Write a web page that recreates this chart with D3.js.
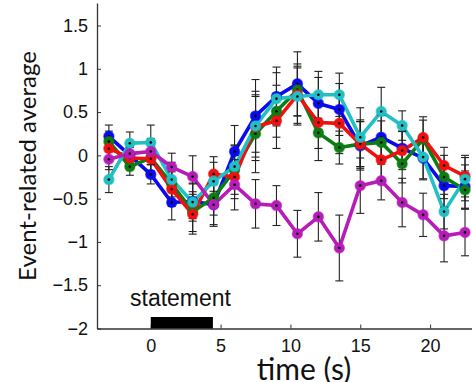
<!DOCTYPE html>
<html><head><meta charset="utf-8">
<script src="https://cdn.jsdelivr.net/npm/d3@7"></script>
<style>body{margin:0;background:#fff}svg{display:block}</style>
</head><body>
<svg id="c" width="472" height="382"></svg>
<script>
const times = [-3,-1.5,0,1.5,3,4.5,6,7.5,9,10.5,12,13.5,15,16.5,18,19.5,21,22.5];
const blueVals    = [0.22, 0.0, -0.22, -0.545, -0.53, -0.57, 0.045, 0.456, 0.68, 0.826, 0.60, 0.53, 0.11, 0.21, 0.083, -0.033, -0.35, -0.36];
const greenVals   = [0.16, -0.13, -0.03, -0.33, -0.65, -0.49, -0.17, 0.25, 0.51, 0.756, 0.26, 0.09, 0.13, 0.148, -0.098, 0.187, -0.25, -0.40];
const redVals     = [0.08, -0.03, -0.04, -0.39, -0.68, -0.215, -0.25, 0.33, 0.40, 0.70, 0.38, 0.37, 0.13, -0.052, 0.055, 0.206, -0.117, -0.24];
const cyanVals    = [-0.28, 0.14, 0.15, -0.28, -0.54, -0.30, -0.13, 0.34, 0.655, 0.68, 0.70, 0.70, 0.21, 0.506, 0.344, -0.02, -0.65, -0.275];
const magentaVals = [-0.045, 0.02, 0.045, -0.135, -0.245, -0.57, -0.34, -0.56, -0.58, -0.906, -0.71, -1.07, -0.35, -0.294, -0.545, -0.687, -0.93, -0.89];
const blueErr     = [0.13, 0.10, 0.11, 0.20, 0.20, 0.23, 0.30, 0.42, 0.34, 0.37, 0.30, 0.30, 0.28, 0.25, 0.20, 0.25, 0.25, 0.25];
const greenErr    = [0.12, 0.10, 0.15, 0.20, 0.23, 0.20, 0.28, 0.45, 0.30, 0.30, 0.32, 0.19, 0.26, 0.25, 0.22, 0.22, 0.25, 0.22];
const redErr      = [0.12, 0.12, 0.15, 0.20, 0.23, 0.20, 0.25, 0.35, 0.32, 0.33, 0.30, 0.35, 0.28, 0.22, 0.22, 0.24, 0.21, 0.24];
const cyanErr     = [0.15, 0.13, 0.20, 0.20, 0.22, 0.22, 0.25, 0.40, 0.30, 0.33, 0.27, 0.25, 0.34, 0.28, 0.17, 0.25, 0.20, 0.25];
const magentaErr  = [0.12, 0.10, 0.15, 0.16, 0.24, 0.25, 0.29, 0.28, 0.23, 0.27, 0.28, 0.38, 0.32, 0.22, 0.28, 0.25, 0.30, 0.27];
const seriesColors = ["#0a0af0", "#0b7d12", "#f01010", "#20c0c4", "#b81cb8"];
const xTicks = [0, 5, 10, 15, 20];
const yTicks = [-2, -1.5, -1, -0.5, 0, 0.5, 1, 1.5];
const stimulusLabel = "statement";
const stimulusSpan = [0, 4.45];
const xLabel = "time (s)";
const yLabel = "Event-related average";

const series = [
  {vals: blueVals, err: blueErr, color: seriesColors[0]},
  {vals: greenVals, err: greenErr, color: seriesColors[1]},
  {vals: redVals, err: redErr, color: seriesColors[2]},
  {vals: cyanVals, err: cyanErr, color: seriesColors[3]},
  {vals: magentaVals, err: magentaErr, color: seriesColors[4]}
];

const svg = d3.select("#c");
const x = d3.scaleLinear().domain([-3.85, 23]).range([97, 472]);
const y = d3.scaleLinear().domain([-2, 1.76]).range([328.5, 3]);
const axisColor = "#333";

// axes
const xAxis = svg.append("g").attr("transform", `translate(0,${y(-2)})`)
  .call(d3.axisBottom(x).tickValues(xTicks).tickSizeInner(-4).tickSizeOuter(0).tickPadding(11));
const yAxis = svg.append("g").attr("transform", `translate(${x(-3.85)},0)`)
  .call(d3.axisLeft(y).tickValues(yTicks).tickSizeInner(-4).tickSizeOuter(0).tickPadding(9).tickFormat(d3.format("")));
[xAxis, yAxis].forEach(g => {
  g.select(".domain").attr("stroke", axisColor).attr("stroke-width", 1.3);
  g.selectAll(".tick line").attr("stroke", axisColor).attr("stroke-width", 1);
  g.selectAll(".tick text").attr("fill", "#111").style("font-family", "'Liberation Sans', Arial, sans-serif").style("font-size", "18px");
});

// stimulus bar
svg.append("rect").attr("x", x(stimulusSpan[0])).attr("width", x(stimulusSpan[1]) - x(stimulusSpan[0]))
  .attr("y", 317).attr("height", y(-2) - 317).attr("fill", "#000");
svg.append("text").attr("x", 130).attr("y", 306).text(stimulusLabel)
  .style("font-family", "'Liberation Sans', Arial, sans-serif").style("font-size", "23px").attr("fill", "#111");

// labels
svg.append("text").attr("x", 304).attr("y", 380).attr("text-anchor", "middle").text(xLabel)
  .style("font-family", "Lato, 'Open Sans', sans-serif").style("font-size", "30px").attr("fill", "#111");
svg.append("text").attr("transform", "translate(36,166) rotate(-90)").attr("text-anchor", "middle").text(yLabel)
  .style("font-family", "Lato, 'Open Sans', sans-serif").style("font-size", "24px").attr("fill", "#111");

const line = d3.line().x((d, i) => x(times[i])).y(d => y(d));
const plot = svg.append("g");

series.forEach(s => {
  plot.append("path").datum(s.vals).attr("d", line).attr("fill", "none")
    .attr("stroke", s.color).attr("stroke-width", 3.6).attr("stroke-linejoin", "round");
});
series.forEach(s => {
  const g = plot.append("g").attr("stroke", "#222").attr("stroke-width", 1.1);
  s.vals.forEach((v, i) => {
    const cx = x(times[i]);
    const y1 = y(v + s.err[i]), y2 = y(v - s.err[i]);
    g.append("line").attr("x1", cx).attr("x2", cx).attr("y1", y1).attr("y2", y2);
    g.append("line").attr("x1", cx - 4).attr("x2", cx + 4).attr("y1", y1).attr("y2", y1);
    g.append("line").attr("x1", cx - 4).attr("x2", cx + 4).attr("y1", y2).attr("y2", y2);
  });
});
series.forEach(s => {
  const g = plot.append("g");
  g.selectAll("circle.m").data(s.vals).join("circle").attr("class", "m")
    .attr("cx", (d, i) => x(times[i])).attr("cy", d => y(d)).attr("r", 5)
    .attr("fill", s.color).attr("stroke", s.color).attr("stroke-opacity", 0.6).attr("stroke-width", 1.5);
  g.selectAll("circle.d").data(s.vals).join("circle").attr("class", "d")
    .attr("cx", (d, i) => x(times[i])).attr("cy", d => y(d)).attr("r", 1.3).attr("fill", "#000");
});
</script>
</body></html>
